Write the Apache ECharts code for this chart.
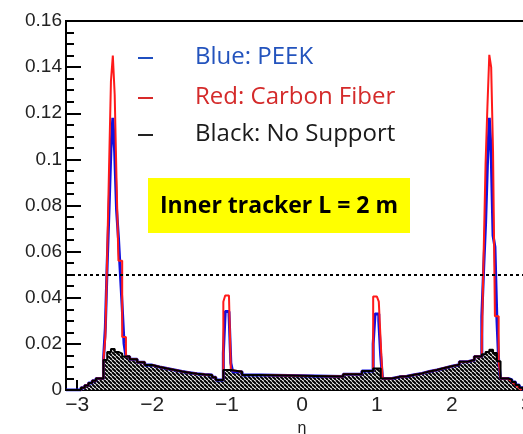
<!DOCTYPE html>
<html>
<head>
<meta charset="utf-8">
<script src="https://cdn.jsdelivr.net/npm/echarts@6/dist/echarts.min.js"></script>
<style>
  html, body { margin: 0; padding: 0; background: #fff; overflow: hidden; }
  #chart { width: 545px; height: 434px; }
</style>
</head>
<body>
<div id="chart"></div>
<script>
// Material budget vs pseudorapidity, inner tracker (L = 2 m)

// Eta axis tick labels
const etaTicks = [-3, -2, -1, 0, 1, 2, 3];

// "No Support" histogram: variable-width bins (edges) and contents
const noSupportEdges = [-3.15, -2.95, -2.9, -2.85, -2.8, -2.75, -2.65, -2.6, -2.55, -2.5, -2.45, -2.4,
  -2.3, -2.2, -2.1, -2.0, -1.9, -1.8, -1.7, -1.6, -1.5, -1.4, -1.3, -1.2, -1.15, -1.05, -0.95, -0.8, -0.55,
  0.55, 0.8, 0.95, 1.05, 1.2, 1.3, 1.4, 1.5, 1.6, 1.7, 1.8, 1.9, 2.0, 2.1, 2.2, 2.3, 2.4, 2.45, 2.5,
  2.55, 2.6, 2.65, 2.75, 2.8, 2.85, 2.9, 2.95, 3.15];
const noSupportValues = [0, 0.001, 0.002, 0.003, 0.004, 0.005, 0.013, 0.0165, 0.0178, 0.0165, 0.0158,
  0.0145, 0.0133, 0.012, 0.0108, 0.0100, 0.0093, 0.0087, 0.008, 0.0075, 0.007, 0.0067, 0.0065, 0.0055,
  0.0043, 0.0087, 0.0079, 0.0065, 0.0058, 0.0068, 0.0082, 0.0093, 0.005, 0.0057, 0.006, 0.0066, 0.0072,
  0.008, 0.0087, 0.0095, 0.0103, 0.011, 0.0122, 0.013, 0.0145, 0.0155, 0.0165, 0.0174, 0.016, 0.0125,
  0.005, 0.0045, 0.0035, 0.0022, 0.001, 0];

// Fine bins used around the support structures
const fineBin = 0.025;

// Carbon Fiber: peaks on top of the no-support baseline
const carbonLeftStart = -2.625;
const carbonLeft = [0.023, 0.059, 0.097, 0.134, 0.145, 0.128, 0.09, 0.056, 0.056, 0.023, 0.023];
const carbonMidLeftStart = -1.05;
const carbonMidLeft = [0.0383, 0.041, 0.041, 0.041];
const carbonMidRightStart = 0.95;
const carbonMidRight = [0.0405, 0.0405, 0.0405, 0.0383, 0.021];
const carbonRightStart = 2.4;
const carbonRight = [0.020, 0.06, 0.098, 0.123, 0.1453, 0.14, 0.103, 0.032, 0.032];
// Carbon Fiber tail beyond the last step: straight fall to zero
const carbonTail = [[2.75, 0.005], [2.93, 0]];

// PEEK: peaks on top of the no-support baseline
const peekLeftStart = -2.625;
const peekLeft = [0.027, 0.055, 0.079, 0.105, 0.118, 0.103, 0.078, 0.066, 0.051, 0.036, 0.02];
const peekMidLeftStart = -1.05;
const peekMidLeft = [0.016, 0.034, 0.034, 0.034, 0.0117];
const peekMidRightStart = 0.95;
const peekMidRight = [0.02, 0.033, 0.033, 0.03, 0.015];
const peekRightStart = 2.4;
const peekRight = [0.032, 0.053, 0.072, 0.098, 0.118, 0.103, 0.067, 0.062, 0.032];

// Reference level
const refLevel = 0.05;

// Build [x0, x1, value] bins, replacing base bins with fine-binned overlays
function buildBins(edges, values, overlays) {
  let bins = edges.slice(0, -1).map((x0, i) => [x0, edges[i + 1], values[i]]);
  overlays.forEach(([start, vals]) => {
    const end = start + vals.length * fineBin;
    const out = [];
    bins.forEach(([a, b, v]) => {
      if (b <= start + 1e-9 || a >= end - 1e-9) { out.push([a, b, v]); return; }
      if (a < start) out.push([a, start, v]);
      if (b > end) out.push([end, b, v]);
    });
    vals.forEach((v, i) => out.push([start + i * fineBin, start + (i + 1) * fineBin, v]));
    out.sort((p, q) => p[0] - q[0]);
    bins = out;
  });
  return bins;
}
// Outline of a histogram as a polyline through bin corners
function outline(bins) {
  const pts = [];
  bins.forEach(([a, b, v]) => { pts.push([a, v]); pts.push([b, v]); });
  return pts;
}

const noSupportPts = outline(buildBins(noSupportEdges, noSupportValues, []));
const carbonPts = outline(buildBins(noSupportEdges, noSupportValues, [
  [carbonLeftStart, carbonLeft], [carbonMidLeftStart, carbonMidLeft],
  [carbonMidRightStart, carbonMidRight], [carbonRightStart, carbonRight]]))
  .filter(p => p[0] < carbonTail[0][0] - 1e-9)
  .concat(carbonTail);
const peekPts = outline(buildBins(noSupportEdges, noSupportValues, [
  [peekLeftStart, peekLeft], [peekMidLeftStart, peekMidLeft],
  [peekMidRightStart, peekMidRight], [peekRightStart, peekRight]]));

// Diagonal hatch tile for the no-support fill
function hatchTile() {
  const s = 4;
  const c = document.createElement('canvas');
  c.width = s; c.height = s;
  const ctx = c.getContext('2d');
  ctx.fillStyle = '#fff';
  ctx.fillRect(0, 0, s, s);
  ctx.strokeStyle = '#000';
  ctx.lineWidth = 2;
  [-s, 0, s].forEach(x0 => {
    ctx.beginPath(); ctx.moveTo(x0, 0); ctx.lineTo(x0 + s, s); ctx.stroke();
  });
  return c;
}

const chart = echarts.init(document.getElementById('chart'), null, { renderer: 'canvas' });
const font = '"Liberation Sans", Arial, sans-serif';
const legendFont = '"Open Sans", Lato, sans-serif';

chart.setOption({
  animation: false,
  backgroundColor: '#fff',
  grid: {
    left: 66, top: 21, right: 7, bottom: 44, outerBoundsMode: 'none', containLabel: false,
    show: true, borderColor: '#000', borderWidth: 2
  },
  xAxis: {
    type: 'value', min: -3.15, max: 3.15,
    name: 'η', nameLocation: 'middle', nameGap: 26,
    nameTextStyle: { fontFamily: font, fontSize: 16, color: '#222' },
    axisLine: { show: true, onZero: false, lineStyle: { color: '#000', width: 2 } },
    axisTick: { show: true, inside: true, length: 10, customValues: etaTicks, lineStyle: { color: '#000', width: 2 } },
    axisLabel: {
      customValues: etaTicks, margin: 5, fontFamily: font, fontSize: 21, color: '#222',
      formatter: v => (v < 0 ? '\u2212' + Math.abs(v) : String(v))
    },
    splitLine: { show: false }
  },
  yAxis: {
    type: 'value', min: 0, max: 0.16, interval: 0.02,
    axisLine: { show: true, onZero: false, lineStyle: { color: '#000', width: 2 } },
    axisTick: { show: true, inside: true, length: 15, lineStyle: { color: '#000', width: 2 } },
    minorTick: { show: true, splitNumber: 4, length: 8, lineStyle: { color: '#000', width: 2 } },
    axisLabel: { margin: 4, fontFamily: font, fontSize: 19, color: '#222' },
    splitLine: { show: false }
  },
  series: [
    {
      name: 'Black: No Support (fill)', type: 'line', data: noSupportPts, symbol: 'none', z: 2,
      lineStyle: { width: 0 },
      areaStyle: { color: { image: hatchTile(), repeat: 'repeat' }, opacity: 1, origin: 'start' }
    },
    {
      name: 'Blue: PEEK', type: 'line', data: peekPts, symbol: 'none', z: 3,
      lineStyle: { color: '#1010e0', width: 3 }
    },
    {
      name: 'Black: No Support', type: 'line', data: noSupportPts, symbol: 'none', z: 4,
      lineStyle: { color: '#000', width: 2 },
      markLine: {
        silent: true, symbol: 'none', label: { show: false }, z: 6,
        lineStyle: { color: '#000', width: 2, type: [3, 3] },
        data: [{ yAxis: refLevel }]
      }
    },
    {
      name: 'Red: Carbon Fiber', type: 'line', data: carbonPts, symbol: 'none', z: 3,
      lineStyle: { color: '#ff1a1a', width: 2 }
    }
  ],
  graphic: [
    { type: 'line', shape: { x1: 138, y1: 58, x2: 153, y2: 58 }, style: { stroke: '#1f4fc0', lineWidth: 2 }, z: 10 },
    { type: 'line', shape: { x1: 138, y1: 98, x2: 153, y2: 98 }, style: { stroke: '#d82a2a', lineWidth: 2 }, z: 10 },
    { type: 'line', shape: { x1: 138, y1: 135, x2: 153, y2: 135 }, style: { stroke: '#222', lineWidth: 2 }, z: 10 },
    { type: 'text', x: 195, y: 57, z: 10, style: { text: 'Blue: PEEK', fill: '#2353bd', font: '24px ' + legendFont, verticalAlign: 'middle' } },
    { type: 'text', x: 195, y: 97, z: 10, style: { text: 'Red: Carbon Fiber', fill: '#d42a2a', font: '24px ' + legendFont, verticalAlign: 'middle' } },
    { type: 'text', x: 195, y: 134, z: 10, style: { text: 'Black: No Support', fill: '#1a1a1a', font: '24px ' + legendFont, verticalAlign: 'middle' } },
    { type: 'rect', shape: { x: 148, y: 178, width: 262, height: 55 }, style: { fill: '#ffff00' }, z: 10 },
    { type: 'text', x: 279, y: 206, z: 11, style: { text: 'Inner tracker L = 2 m', fill: '#000', font: 'bold 23px ' + legendFont, align: 'center', verticalAlign: 'middle' } }
  ]
});
</script>
</body>
</html>
